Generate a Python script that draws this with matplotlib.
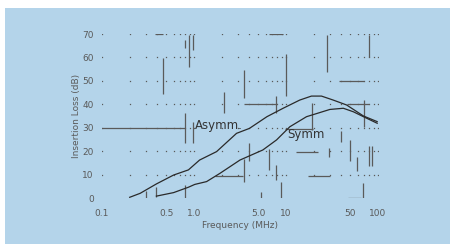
import matplotlib
matplotlib.use("Agg")
import matplotlib.pyplot as plt
from matplotlib.patches import Rectangle
import numpy as np

# curve data (frequency in MHz, loss in dB)
asymm_f = [0.2, 0.26, 0.39, 0.6, 0.87, 1.15, 1.76, 2.9, 4.0, 6.2, 9.3, 14.1, 18.9, 24.3, 32.6, 45.6, 69.5, 98]
asymm_db = [0.3, 2.0, 6.0, 9.8, 12.0, 16.2, 19.8, 27.6, 29.7, 34.7, 38.3, 41.8, 43.5, 43.5, 41.8, 39.7, 35.0, 32.6]
symm_f = [0.39, 0.6, 0.87, 1.02, 1.37, 1.91, 3.16, 5.6, 7.9, 11.0, 16.7, 30.0, 42.0, 54.0, 69.5, 98]
symm_db = [0.8, 2.3, 4.6, 5.8, 7.0, 10.5, 16.2, 20.5, 24.8, 30.4, 34.7, 37.8, 38.3, 36.8, 34.7, 31.9]

y_ticks = [0, 10, 20, 30, 40, 50, 60, 70]
x_ticks = [0.1, 0.5, 1.0, 5.0, 10, 50, 100]
x_ticklabels = ["0.1", "0.5", "1.0", "5.0", "10", "50", "100"]

# stray scan marks: vertical (x, y0, y1) and horizontal (y, x0, x1)
vmarks_x = [0.8, 0.98, 0.8, 0.88, 0.97, 0.46, 10, 3.5, 7.8, 2.1, 28, 79, 70, 19.3,
            40, 50, 59, 79, 86, 68, 29, 5.3, 7.8, 8.9, 4.0, 3.5, 0.3, 0.39, 0.8, 6.6]
vmarks_y0 = [23.3, 23.3, 64, 56, 63, 44.6, 43.5, 42.5, 36.1, 36.1, 53.9, 60.3, 30.4, 29,
             24.1, 15.6, 11.5, 13.8, 13.8, 0, 17.5, 0, 7.5, 0, 16, 7, 0, 0.5, 0, 12]
vmarks_y1 = [36.1, 32.5, 67.5, 69.5, 69.5, 59.6, 61.3, 54.6, 43.5, 45.4, 69.5, 69.5, 41.8, 40.4,
             28.4, 24.8, 17.5, 22.3, 22.3, 6.2, 21.5, 2.4, 14, 7, 23.3, 16.8, 2.8, 4.5, 5.5, 21]
hmarks_y = [30, 70, 70, 40, 50, 40, 29.4, 19.8, 9.4, 9.4, 0]
hmarks_x0 = [0.1, 0.38, 6.5, 3.5, 38, 45.6, 9.8, 13, 17.2, 1.7, 47]
hmarks_x1 = [0.8, 0.46, 9.3, 7.9, 70, 79, 19.5, 22, 30, 3.4, 66]

fig = plt.figure(figsize=(4.52, 2.44), dpi=100, facecolor="white")
fig.patches.append(Rectangle((5 / 452, 0), 445 / 452, 236 / 244, transform=fig.transFigure,
                             facecolor="#b4d4ea", edgecolor="none", zorder=-10))

ax = fig.add_axes([102 / 452, 1 - 198 / 244, 276 / 452, 164 / 244])
ax.set_zorder(5)
ax.set_facecolor("none")
ax.set_xscale("log")
ax.set_xlim(0.1, 100)
ax.set_ylim(0, 70)
for s in ax.spines.values():
    s.set_visible(False)

# dotted grid: a dot at every log step on each 10 dB line
dots_x = [k * 10.0 ** d for d in range(-1, 2) for k in range(1, 10)] + [100]
for yv in y_ticks[1:]:
    ax.plot(dots_x, [yv] * len(dots_x), ls="none", marker="s", ms=0.9, color="#5a5a5a", mew=0)

for x, y0, y1 in zip(vmarks_x, vmarks_y0, vmarks_y1):
    ax.plot([x, x], [y0, y1], color="#5a5a5a", lw=0.9, solid_capstyle="butt")
for y, x0, x1 in zip(hmarks_y, hmarks_x0, hmarks_x1):
    ax.plot([x0, x1], [y, y], color="#5a5a5a", lw=0.9, solid_capstyle="butt")

ax.plot(asymm_f, asymm_db, color="#2a2a2a", lw=0.9)
ax.plot(symm_f, symm_db, color="#2a2a2a", lw=0.9)
ax.text(1.03, 31, "Asymm.", fontsize=8.5, color="#333333", va="center", ha="left")
ax.text(10.3, 27, "Symm", fontsize=8.5, color="#333333", va="center", ha="left")

ax.set_xticks(x_ticks)
ax.set_xticklabels(x_ticklabels)
ax.xaxis.set_minor_locator(matplotlib.ticker.NullLocator())
ax.set_yticks(y_ticks)
ax.tick_params(length=0, labelsize=6.5, labelcolor="#5a5a5a", pad=8)
ax.tick_params(axis="y", pad=6)
ax.set_xlabel("Frequency (MHz)", fontsize=6.5, color="#5a5a5a", labelpad=2)
ax.set_ylabel("Insertion Loss (dB)", fontsize=6.5, color="#5a5a5a", labelpad=1)

fig.savefig("out.png", dpi=100, facecolor="white")
